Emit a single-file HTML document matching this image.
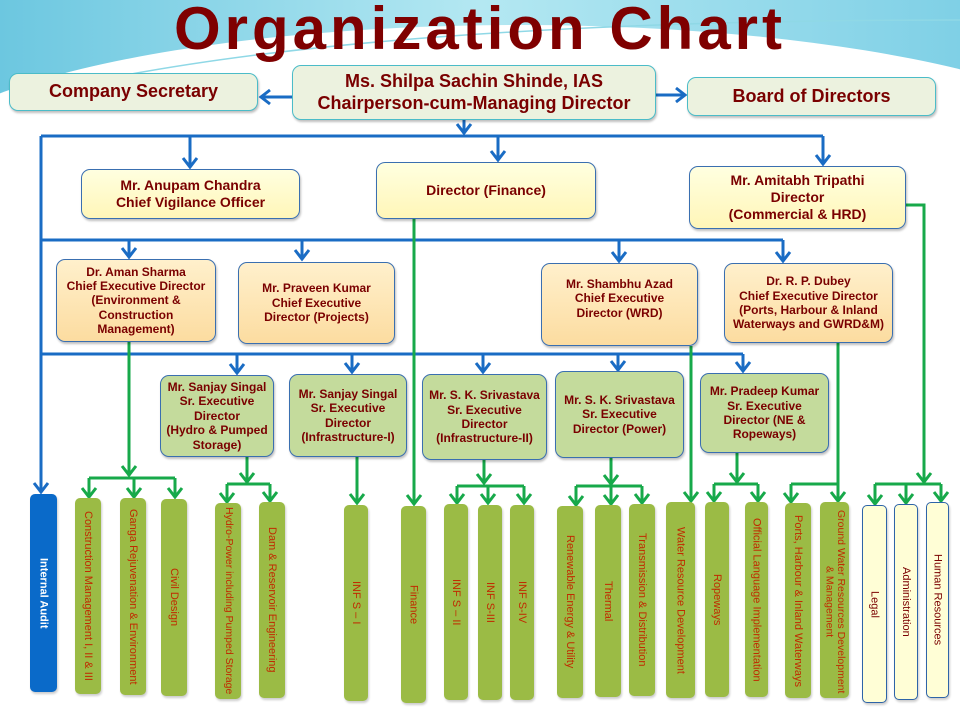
<!DOCTYPE html>
<html><head><meta charset="utf-8"><style>
body{margin:0;width:960px;height:720px;overflow:hidden;background:#fff;position:relative;font-family:"Liberation Sans",Arial,sans-serif}
.b{position:absolute;box-sizing:border-box;border-radius:9px;display:flex;align-items:center;justify-content:center;text-align:center;color:#7a0000;font-weight:bold;line-height:1.2;box-shadow:1px 2px 2px rgba(0,0,0,.25)}
.t{background:#ecf2df;border:1.5px solid #4bbcc8;font-size:18px}
.y{background:linear-gradient(#ffffe0,#fff6b8);border:1.5px solid #3a6fb0;font-size:14px}
.o{background:linear-gradient(#fff0cc,#fcdca0);border:1.5px solid #3a6fb0;font-size:12px}
.g{background:#c4db9c;border:1.5px solid #3a6fb0;font-size:12px}
.c{position:absolute;box-sizing:border-box;border-radius:5px;background:#9bbb45;color:#c02a00;font-size:11px;writing-mode:vertical-rl;display:flex;align-items:center;justify-content:center;text-align:center;line-height:1.1;box-shadow:1px 2px 2px rgba(0,0,0,.2)}
.w{background:#fffed6;border:1.2px solid #2e64a8;color:#7a0000}
svg{position:absolute;left:0;top:0}
</style></head><body>
<svg width="960" height="720">
<defs><linearGradient id="bg" x1="0" y1="0" x2="1" y2="0"><stop offset="0" stop-color="#6cc7e0"/><stop offset=".5" stop-color="#b4e8f2"/><stop offset="1" stop-color="#7fd0e6"/></linearGradient></defs>
<rect x="0" y="0" width="960" height="140" fill="url(#bg)"/>
<ellipse cx="520" cy="175" rx="620" ry="150" fill="#fff"/>
<path d="M100,80 Q400,20 960,20" stroke="#8fd8e6" stroke-width="1.5" fill="none"/>
</svg>
<div style="position:absolute;left:150px;top:-6px;width:660px;text-align:center;font-size:60px;font-weight:bold;color:#7f0000;letter-spacing:4px">Organization Chart</div>
<svg width="960" height="720">
<g stroke="#1a6cc4" stroke-width="3" fill="none">
<path d="M292,97H262M656,95H684M464,120V134M41,136H823M41,136V490M190,136V166M498,136V159M823,136V163M41,240H783M129,240V256M302,240V258M619,240V260M783,240V260M41,354H743M237,354V372M352,354V371M483,354V371M618,354V369M743,354V370"/>
<g stroke-width="3">
<polyline points="270,90 261,97 270,104"/><polyline points="676,88 685,95 676,102"/>
<polyline points="457,124 464,133 471,124"/>
<polyline points="34,483 41,492 48,483"/>
<polyline points="183,158 190,167 197,158"/><polyline points="491,151 498,160 505,151"/><polyline points="816,155 823,164 830,155"/>
<polyline points="122,248 129,257 136,248"/><polyline points="295,250 302,259 309,250"/><polyline points="612,252 619,261 626,252"/><polyline points="776,252 783,261 790,252"/>
<polyline points="230,364 237,373 244,364"/><polyline points="345,363 352,372 359,363"/><polyline points="476,363 483,372 490,363"/><polyline points="611,361 618,370 625,361"/><polyline points="736,362 743,371 750,362"/>
</g></g>
<g stroke="#17a94a" stroke-width="3" fill="none">
<path d="M129,342V476M89,478H175M89,478V496M134,478V496M175,478V496"/>
<path d="M247,457V482M227,484H270M227,484V501M270,484V500"/>
<path d="M357,457V502M414,219V503"/>
<path d="M484,460V483M457,486H524M457,486V502M488,486V502M524,486V502"/>
<path d="M611,458V484M576,486H642M576,486V504M611,486V503M642,486V502"/>
<path d="M691,346V500"/>
<path d="M737,453V482M714,484H758M714,484V500M758,484V500"/>
<path d="M838,343V500M791,484H838M791,484V501"/>
<path d="M906,205H924V482M875,484H941M875,484V503M906,484V502M941,484V500"/>
<g>
<polyline points="122,466 129,475 136,466"/><polyline points="82,488 89,497 96,488"/><polyline points="127,488 134,497 141,488"/><polyline points="168,488 175,497 182,488"/>
<polyline points="240,473 247,482 254,473"/><polyline points="220,493 227,502 234,493"/><polyline points="263,492 270,501 277,492"/>
<polyline points="350,494 357,503 364,494"/><polyline points="407,495 414,504 421,495"/>
<polyline points="477,474 484,483 491,474"/><polyline points="450,494 457,503 464,494"/><polyline points="481,494 488,503 495,494"/><polyline points="517,494 524,503 531,494"/>
<polyline points="604,475 611,484 618,475"/><polyline points="569,496 576,505 583,496"/><polyline points="604,495 611,504 618,495"/><polyline points="635,494 642,503 649,494"/>
<polyline points="684,492 691,501 698,492"/>
<polyline points="730,473 737,482 744,473"/><polyline points="707,492 714,501 721,492"/><polyline points="751,492 758,501 765,492"/>
<polyline points="784,493 791,502 798,493"/><polyline points="831,492 838,501 845,492"/>
<polyline points="917,473 924,482 931,473"/><polyline points="868,495 875,504 882,495"/><polyline points="899,494 906,503 913,494"/><polyline points="934,492 941,501 948,492"/>
</g></g>
</svg>
<div class="b t" style="left:9px;top:73px;width:249px;height:38px">Company Secretary</div>
<div class="b t" style="left:292px;top:65px;width:364px;height:55px">Ms. Shilpa Sachin Shinde, IAS<br>Chairperson-cum-Managing Director</div>
<div class="b t" style="left:687px;top:77px;width:249px;height:39px">Board of Directors</div>
<div class="b y" style="left:81px;top:169px;width:219px;height:50px">Mr. Anupam Chandra<br>Chief Vigilance Officer</div>
<div class="b y" style="left:376px;top:162px;width:220px;height:57px">Director (Finance)</div>
<div class="b y" style="left:689px;top:166px;width:217px;height:63px">Mr. Amitabh Tripathi<br>Director<br>(Commercial &amp; HRD)</div>
<div class="b o" style="left:56px;top:259px;width:160px;height:83px">Dr. Aman Sharma<br>Chief Executive Director<br>(Environment &amp;<br>Construction<br>Management)</div>
<div class="b o" style="left:238px;top:262px;width:157px;height:82px">Mr. Praveen Kumar<br>Chief Executive<br>Director (Projects)</div>
<div class="b o" style="left:541px;top:263px;width:157px;height:83px;align-items:flex-start;padding-top:13px">Mr. Shambhu Azad<br>Chief Executive<br>Director (WRD)</div>
<div class="b o" style="left:724px;top:263px;width:169px;height:80px">Dr. R. P. Dubey<br>Chief Executive Director<br>(Ports, Harbour &amp; Inland<br>Waterways and GWRD&amp;M)</div>
<div class="b g" style="left:160px;top:375px;width:114px;height:82px">Mr. Sanjay Singal<br>Sr. Executive<br>Director<br>(Hydro &amp; Pumped<br>Storage)</div>
<div class="b g" style="left:289px;top:374px;width:118px;height:83px">Mr. Sanjay Singal<br>Sr. Executive<br>Director<br>(Infrastructure-I)</div>
<div class="b g" style="left:422px;top:374px;width:125px;height:86px">Mr. S. K. Srivastava<br>Sr. Executive<br>Director<br>(Infrastructure-II)</div>
<div class="b g" style="left:555px;top:371px;width:129px;height:87px">Mr. S. K. Srivastava<br>Sr. Executive<br>Director (Power)</div>
<div class="b g" style="left:700px;top:373px;width:129px;height:80px">Mr. Pradeep Kumar<br>Sr. Executive<br>Director (NE &amp;<br>Ropeways)</div>

<div class="c" style="left:30px;top:494px;width:27px;height:198px;background:#0a6ac9;color:#fff;font-weight:bold;font-size:11px">Internal Audit</div>
<div class="c" style="left:75px;top:498px;width:26px;height:196px">Construction Management I, II &amp; III</div>
<div class="c" style="left:120px;top:498px;width:26px;height:197px">Ganga Rejuvenation &amp; Environment</div>
<div class="c" style="left:161px;top:499px;width:26px;height:197px">Civil Design</div>
<div class="c" style="left:215px;top:503px;width:26px;height:196px;font-size:10.5px">Hydro-Power including Pumped Storage</div>
<div class="c" style="left:259px;top:502px;width:26px;height:196px">Dam &amp; Reservoir Engineering</div>
<div class="c" style="left:344px;top:505px;width:24px;height:196px">INF S – I</div>
<div class="c" style="left:401px;top:506px;width:25px;height:197px">Finance</div>
<div class="c" style="left:444px;top:504px;width:24px;height:196px">INF S – II</div>
<div class="c" style="left:478px;top:505px;width:24px;height:195px">INF S-III</div>
<div class="c" style="left:510px;top:505px;width:24px;height:195px">INF S-IV</div>
<div class="c" style="left:557px;top:506px;width:26px;height:192px">Renewable Energy &amp; Utility</div>
<div class="c" style="left:595px;top:505px;width:26px;height:192px">Thermal</div>
<div class="c" style="left:629px;top:504px;width:26px;height:192px">Transmission &amp; Distribution</div>
<div class="c" style="left:666px;top:502px;width:29px;height:196px">Water Resource Development</div>
<div class="c" style="left:705px;top:502px;width:24px;height:195px">Ropeways</div>
<div class="c" style="left:745px;top:502px;width:23px;height:195px">Official Language Implementation</div>
<div class="c" style="left:785px;top:503px;width:26px;height:195px">Ports, Harbour &amp; Inland Waterways</div>
<div class="c" style="left:820px;top:502px;width:29px;height:196px;justify-content:flex-start;padding-top:4px;font-size:10.5px">Ground Water Resources Development &amp; Management</div>
<div class="c w" style="left:862px;top:505px;width:25px;height:198px">Legal</div>
<div class="c w" style="left:894px;top:504px;width:24px;height:196px">Administration</div>
<div class="c w" style="left:926px;top:502px;width:23px;height:196px">Human Resources</div>
</body></html>
